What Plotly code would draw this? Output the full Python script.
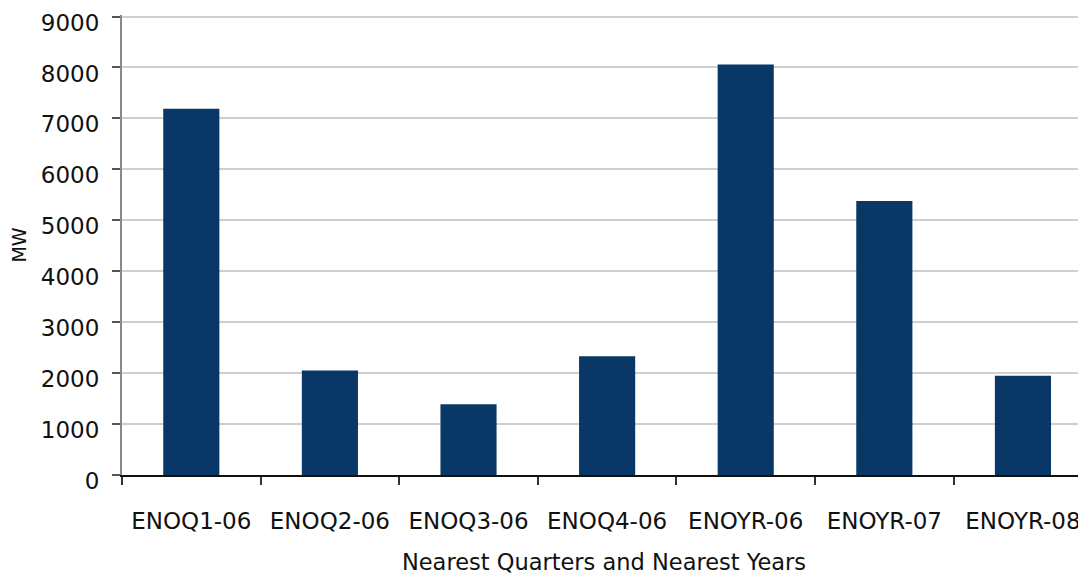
import plotly.graph_objects as go

categories = ["ENOQ1-06", "ENOQ2-06", "ENOQ3-06", "ENOQ4-06", "ENOYR-06", "ENOYR-07", "ENOYR-08"]
mw_values = [7190, 2050, 1390, 2330, 8060, 5380, 1950]
y_ticks = [0, 1000, 2000, 3000, 4000, 5000, 6000, 7000, 8000, 9000]

FONT = "DejaVu Sans"

fig = go.Figure(go.Bar(
    x=categories, y=mw_values,
    marker=dict(color="#0a3866", line=dict(width=0)),
    width=0.405,
))

fig.update_layout(
    width=1078, height=567,
    margin=dict(l=114, r=0, t=6.5, b=100),
    paper_bgcolor="white", plot_bgcolor="white",
    showlegend=False,
    font=dict(family=FONT, size=22, color="#111111"),
    xaxis=dict(
        range=[-0.5, 6.455],
        tickson="boundaries",
        ticks="outside", ticklen=8, tickcolor="#333333", tickwidth=1.5,
        showgrid=False,
        showline=True, linecolor="#111111", linewidth=2,
        tickfont=dict(family=FONT, size=23, color="#111111"),
        ticklabelstandoff=24,
        automargin=False,
        title=dict(text="Nearest Quarters and Nearest Years",
                   font=dict(family=FONT, size=22.5, color="#111111"), standoff=24),
    ),
    yaxis=dict(
        range=[0, 9030],
        tickvals=y_ticks,
        ticks="outside", ticklen=8, tickcolor="#555555", tickwidth=1.5,
        showgrid=True, gridcolor="#cfcfcf", gridwidth=1.5,
        showline=True, linecolor="#888888", linewidth=2,
        zeroline=False,
        tickfont=dict(family=FONT, size=23, color="#111111"),
        ticklabelstandoff=8,
        ticklabelshift=6,
        automargin=False,
        title=dict(text="MW", font=dict(family=FONT, size=19, color="#111111"), standoff=14),
    ),
    bargap=0.6,
)

fig.write_html("out.html")
